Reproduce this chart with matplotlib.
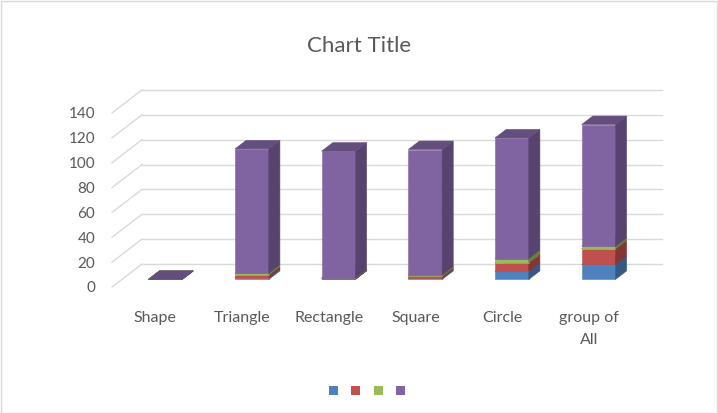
import numpy as np
import matplotlib
matplotlib.use('Agg')
import matplotlib.pyplot as plt
from matplotlib.patches import Polygon, Patch, Rectangle

plt.rcParams['font.family'] = ['Lato', 'DejaVu Sans']

# data
categories = ['Shape', 'Triangle', 'Rectangle', 'Square', 'Circle', 'group of\nAll']
blue = [0, 1.5, 0.3, 1.0, 6.5, 12.0]
red = [0, 2.0, 0.6, 1.5, 6.8, 12.6]
green = [0, 1.5, 0.3, 1.0, 3.5, 2.0]
purple = [0, 100, 102, 101, 97, 98]
yticks = [0, 20, 40, 60, 80, 100, 120, 140]

series = [blue, red, green, purple]
colors = ['#4F81BD', '#C0504D', '#9BBB59', '#8064A2']

# fake oblique 3d: full depth offset in data units
DX, DY = 0.346, 18.5
front, back = 0.33, 0.70
width = 0.39


def shade(c, f):
    c = matplotlib.colors.to_rgb(c)
    return tuple(v * f for v in c)


fig = plt.figure(figsize=(7.18, 4.13), dpi=100)
W, H = 718.0, 413.0
# px: x 112..662, y(from top) 287..90
ax = fig.add_axes([112 / W, (H - 287) / H, 550 / W, 197 / H])
ax.set_xlim(-0.5, 5.5 + DX)
ax.set_ylim(0, 140 + DY)
for s in ax.spines.values():
    s.set_visible(False)

grid = '#d9d9d9'
for v in yticks:
    ax.plot([-0.5 + DX, 5.5 + DX], [v + DY, v + DY], color=grid, lw=1, zorder=1, clip_on=False)
    ax.plot([-0.5, -0.5 + DX], [v, v + DY], color=grid, lw=1, zorder=1, clip_on=False)

x = np.arange(len(categories))
fx, fy = front * DX, front * DY
ddx, ddy = (back - front) * DX, (back - front) * DY

bottom = np.zeros(len(categories))
for vals, c in zip(series, colors):
    vals = np.array(vals, dtype=float)
    ax.bar(x + fx, vals, width=width, bottom=bottom + fy, color=c, edgecolor=c,
           linewidth=0.4, zorder=3)
    for i in range(len(x)):
        x0 = x[i] + fx - width / 2
        x1 = x[i] + fx + width / 2
        y0 = bottom[i] + fy
        y1 = y0 + vals[i]
        side = [(x1, y0), (x1 + ddx, y0 + ddy), (x1 + ddx, y1 + ddy), (x1, y1)]
        top = [(x0, y1), (x1, y1), (x1 + ddx, y1 + ddy), (x0 + ddx, y1 + ddy)]
        ax.add_patch(Polygon(side, closed=True, fc=shade(c, 0.68), ec=shade(c, 0.68),
                             lw=0.4, zorder=3))
        ax.add_patch(Polygon(top, closed=True, fc=shade(c, 0.78), ec=shade(c, 0.78),
                             lw=0.4, zorder=3))
    bottom = bottom + vals

ax.set_yticks(yticks)
ax.set_yticklabels([str(v) for v in yticks])
ax.set_xticks(x)
ax.set_xticklabels(categories, linespacing=1.75)
ax.tick_params(axis='y', length=0, pad=12, labelsize=11, labelcolor='#595959')
ax.tick_params(axis='x', length=0, pad=17, labelsize=11.5, labelcolor='#595959')

fig.text(359 / W, 1 - 46 / H, 'Chart Title', ha='center', va='center', fontsize=16, color='#595959')

handles = [Patch(facecolor=c, edgecolor='none') for c in colors]
fig.legend(handles, ['', '', '', ''], loc='center', bbox_to_anchor=(367 / W, 1 - 391 / H),
           ncol=4, frameon=False, handlelength=0.7, handleheight=0.7,
           handletextpad=0, columnspacing=1.1, fontsize=9)

fig.patches.append(Rectangle((0.001, 0.001), 0.997, 0.997, transform=fig.transFigure,
                             fill=False, edgecolor=grid, lw=1))

plt.savefig('out.png', dpi=100)
